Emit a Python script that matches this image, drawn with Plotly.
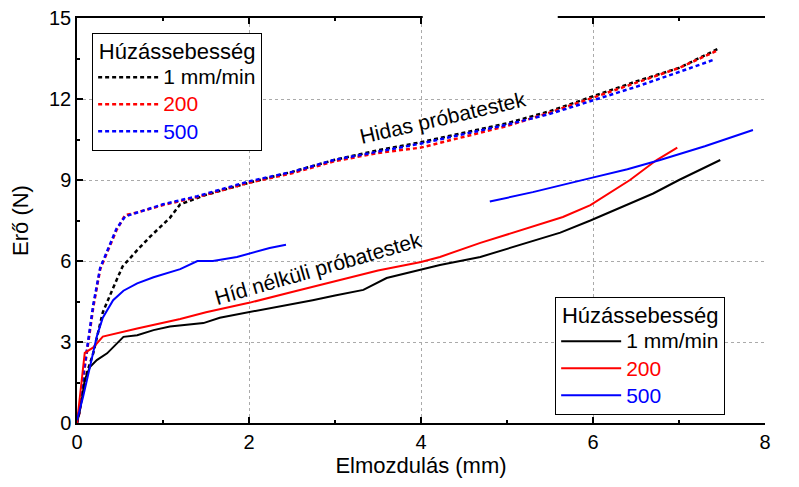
import plotly.graph_objects as go

# ---------------- data ----------------
# Hidas próbatestek (dotted)
hid_1_x = [0, 0.05, 0.1, 0.19, 0.3, 0.42, 0.53, 0.7, 0.85, 1.08, 1.2, 1.5, 2.0, 2.5, 3.0, 3.5, 4.0, 4.5, 5.0, 5.5, 6.0, 6.5, 7.0, 7.45]
hid_1_y = [0, 0.8, 1.7, 2.6, 4.1, 5.0, 5.8, 6.4, 6.9, 7.6, 8.1, 8.45, 8.9, 9.3, 9.75, 10.1, 10.4, 10.75, 11.1, 11.55, 12.1, 12.65, 13.15, 13.85]

hid_200_x = [0, 0.03, 0.07, 0.12, 0.19, 0.27, 0.35, 0.46, 0.56, 0.7, 1.0, 1.4, 2.0, 2.5, 3.0, 3.5, 4.0, 4.5, 5.0, 5.5, 6.0, 6.5, 7.0, 7.45]
hid_200_y = [0, 0.4, 1.6, 2.8, 4.3, 5.7, 6.3, 7.15, 7.7, 7.8, 8.07, 8.37, 8.9, 9.25, 9.7, 10.0, 10.2, 10.6, 11.0, 11.5, 12.05, 12.6, 13.15, 13.8]

hid_500_x = [0, 0.03, 0.07, 0.12, 0.19, 0.27, 0.35, 0.46, 0.56, 0.7, 1.0, 1.4, 2.0, 2.5, 3.0, 3.5, 4.0, 4.5, 5.0, 5.5, 6.0, 6.5, 7.0, 7.4]
hid_500_y = [0, 0.45, 1.7, 2.9, 4.4, 5.75, 6.35, 7.2, 7.65, 7.8, 8.1, 8.4, 8.95, 9.3, 9.75, 10.05, 10.35, 10.7, 11.05, 11.45, 11.95, 12.45, 13.0, 13.45]

# Híd nélküli próbatestek (solid)
nh_1_x = [0, 0.03, 0.06, 0.09, 0.15, 0.23, 0.35, 0.42, 0.54, 0.7, 0.89, 1.08, 1.47, 1.66, 2.0, 2.5, 2.74, 3.0, 3.33, 3.6, 4.0, 4.22, 4.69, 5.27, 5.62, 5.97, 6.7, 7.0, 7.48]
nh_1_y = [0, 0.4, 0.96, 1.6, 2.07, 2.33, 2.58, 2.8, 3.19, 3.25, 3.44, 3.57, 3.7, 3.9, 4.1, 4.4, 4.55, 4.72, 4.93, 5.37, 5.67, 5.85, 6.15, 6.7, 7.05, 7.5, 8.5, 9.0, 9.74]

nh_200_x = [0, 0.03, 0.07, 0.09, 0.19, 0.3, 0.7, 1.2, 1.5, 2.0, 2.5, 3.0, 3.5, 4.0, 4.22, 4.69, 5.27, 5.65, 5.97, 6.12, 6.43, 6.74, 6.98]
nh_200_y = [0, 0.96, 2.07, 2.6, 2.8, 3.2, 3.5, 3.85, 4.1, 4.45, 4.85, 5.25, 5.65, 5.96, 6.15, 6.67, 7.26, 7.63, 8.07, 8.37, 9.0, 9.74, 10.2]

nh_500_x = [0, 0.07, 0.15, 0.23, 0.3, 0.42, 0.54, 0.7, 0.89, 1.2, 1.4, 1.58, 1.86, 2.24, 2.43, None,
            4.8, 5.3, 5.97, 6.4, 6.78, 7.3, 7.86]
nh_500_y = [0.1, 0.96, 2.07, 3.2, 3.9, 4.55, 4.9, 5.17, 5.4, 5.7, 6.0, 6.0, 6.15, 6.48, 6.6, None,
            8.2, 8.55, 9.07, 9.4, 9.74, 10.25, 10.85]

series_names = ["1 mm/min", "200", "500"]
series_colors = ["#000000", "#ff0000", "#0000ff"]
legend_title = "Húzássebesség"
x_ticks = [0, 2, 4, 6, 8]
y_ticks = [0, 3, 6, 9, 12, 15]

FONT = "Liberation Sans, Arial, sans-serif"

fig = go.Figure()

dotted = [(hid_1_x, hid_1_y), (hid_200_x, hid_200_y), (hid_500_x, hid_500_y)]
solid = [(nh_1_x, nh_1_y), (nh_200_x, nh_200_y), (nh_500_x, nh_500_y)]


def legend_label(name, col):
    return f'<span style="color:{col};font-size:21px">{name}</span>'


for (xs, ys), name, col in zip(dotted, series_names, series_colors):
    fig.add_trace(go.Scatter(
        x=xs, y=ys, mode="lines",
        line=dict(color=col, width=2.5, dash="4px,3px"),
        name=legend_label(name, col),
        legend="legend",
    ))

for (xs, ys), name, col in zip(solid, series_names, series_colors):
    fig.add_trace(go.Scatter(
        x=xs, y=ys, mode="lines",
        line=dict(color=col, width=2),
        name=legend_label(name, col),
        legend="legend2", connectgaps=False,
    ))

axis_common = dict(
    showline=True, linecolor="black", linewidth=1.5,
    ticks="inside", ticklen=6, tickwidth=1.5, tickcolor="black",
    tickfont=dict(family=FONT, size=20, color="black"),
    zeroline=False, automargin=False,
)

legend_common = dict(
    xanchor="left", yanchor="top",
    bgcolor="white", bordercolor="black", borderwidth=1,
    font=dict(family=FONT, size=18.5),
    title=dict(text=f'<span style="font-size:22px">{legend_title}</span>',
               side="top center", font=dict(family=FONT, size=19)),
    tracegroupgap=0, itemwidth=60,
)

fig.update_layout(
    width=799, height=487,
    margin=dict(l=77, r=34, t=18, b=64, autoexpand=False),
    plot_bgcolor="white", paper_bgcolor="white",
    font=dict(family=FONT, size=20, color="black"),
    xaxis=dict(
        range=[0, 8], tickvals=x_ticks, ticktext=[str(v) for v in x_ticks],
        mirror="allticks",
        minor=dict(dtick=1, tick0=0, ticks="inside", ticklen=3, tickcolor="black", tickwidth=1.5, showgrid=False),
        showgrid=True, gridcolor="#aaaaaa", griddash="dot", gridwidth=1,
        title=dict(text="Elmozdulás (mm)", font=dict(family=FONT, size=22), standoff=6),
        **axis_common,
    ),
    yaxis=dict(
        range=[0, 15], tickvals=y_ticks, ticktext=[str(v) for v in y_ticks],
        minor=dict(dtick=1.5, tick0=0, ticks="inside", ticklen=3, tickcolor="black", tickwidth=1.5, showgrid=False),
        showgrid=True, gridcolor="#aaaaaa", griddash="dot", gridwidth=1,
        title=dict(text="Erő (N)", font=dict(family=FONT, size=22), standoff=14),
        **axis_common,
    ),
    yaxis2=dict(
        range=[0, 15], tickvals=y_ticks, ticktext=[str(v) for v in y_ticks],
        overlaying="y", side="right", anchor="x",
        minor=dict(dtick=1.5, tick0=0, ticks="inside", ticklen=3, tickcolor="black", tickwidth=1.5, showgrid=False),
        showgrid=False,
        **axis_common,
    ),
    legend=dict(x=0.022, y=0.963, **legend_common),
    legend2=dict(x=0.695, y=0.311, **legend_common),
    annotations=[
        dict(x=4.26, y=11.3, xref="x", yref="y", text="Hidas próbatestek",
             showarrow=False, textangle=-13, font=dict(family=FONT, size=21)),
        dict(x=2.8, y=5.74, xref="x", yref="y", text="Híd nélküli próbatestek",
             showarrow=False, textangle=-16, font=dict(family=FONT, size=21)),
    ],
    shapes=[
        dict(type="rect", xref="x", yref="paper", x0=4.02, x1=5.59, y0=0.985, y1=1.03,
             fillcolor="white", line=dict(width=0), layer="above"),
    ],
)

fig.write_html("out.html", config={"displayModeBar": False},
               post_script="document.body.style.margin='0';")
